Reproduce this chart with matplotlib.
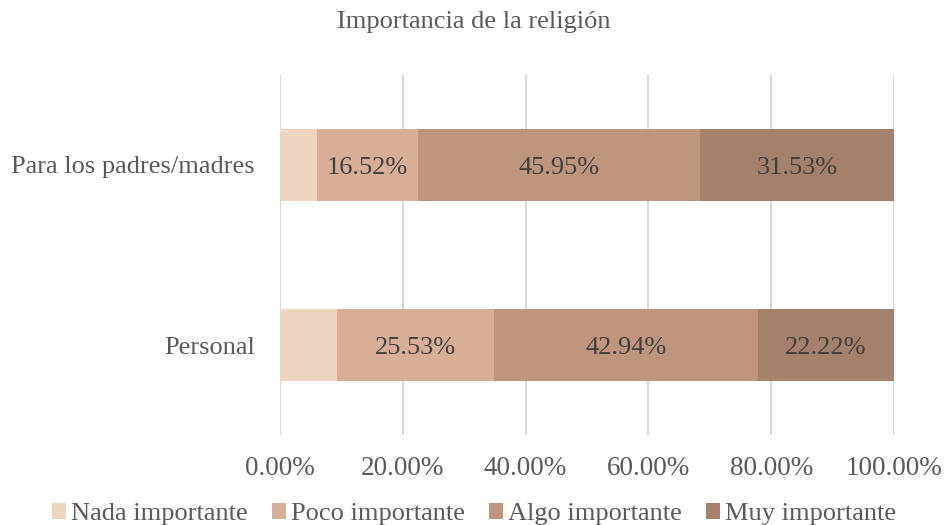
import matplotlib
matplotlib.use("Agg")
import matplotlib.pyplot as plt
from matplotlib.ticker import FuncFormatter

categories = ["Personal", "Para los padres/madres"]
series = ["Nada importante", "Poco importante", "Algo importante", "Muy importante"]
nada = [9.31, 6.00]
poco = [25.53, 16.52]
algo = [42.94, 45.95]
muy = [22.22, 31.53]
values = [nada, poco, algo, muy]
colors = ["#EDD5C0", "#D8AF96", "#C0957E", "#A5806A"]
show_labels = [False, True, True, True]

plt.rcParams['font.family'] = ['Liberation Serif', 'DejaVu Serif']
fig = plt.figure(figsize=(9.48, 5.25), dpi=100)
ax = fig.add_axes([280/948, 1-435/525, 614/948, 360/525])

ypos = list(range(len(categories)))
left = [0.0]*len(categories)
for name, vals, col, lab in zip(series, values, colors, show_labels):
    ax.barh(ypos, vals, left=left, height=0.40, color=col, label=name, zorder=3)
    if lab:
        for y, l, v in zip(ypos, left, vals):
            ax.annotate(f"{v:.2f}%", xy=(l + v/2, y), xytext=(0, -2.5),
                        textcoords="offset points", ha="center", va="center",
                        fontsize=19, color="#404040", zorder=4)
    left = [a + b for a, b in zip(left, vals)]

ax.set_xlim(0, 100)
ax.set_ylim(-0.5, 1.5)
ax.set_xticks([0, 20, 40, 60, 80, 100])
ax.xaxis.set_major_formatter(FuncFormatter(lambda x, p: f"{x:.2f}%"))
ax.set_yticks(ypos)
ax.set_yticklabels(categories)
ax.grid(axis="x", color="#D9D9D9", linewidth=1.5, zorder=0)
for s in ax.spines.values():
    s.set_visible(False)
ax.tick_params(axis="both", length=0, labelsize=19.5, labelcolor="#595959")
ax.tick_params(axis="y", labelsize=19, pad=18)
ax.tick_params(axis="x", pad=15)

fig.text(0.5, 1-22/525, "Importancia de la religión", ha="center", va="center",
         fontsize=19, color="#595959")

fig.legend(loc="center", bbox_to_anchor=(0.5, 1-514/525), ncol=4, frameon=False,
           fontsize=19, labelcolor="#595959", handlelength=0.55, handleheight=0.55,
           handletextpad=0.18, columnspacing=0.9, borderaxespad=0)
fig.savefig("out.png", dpi=100)
